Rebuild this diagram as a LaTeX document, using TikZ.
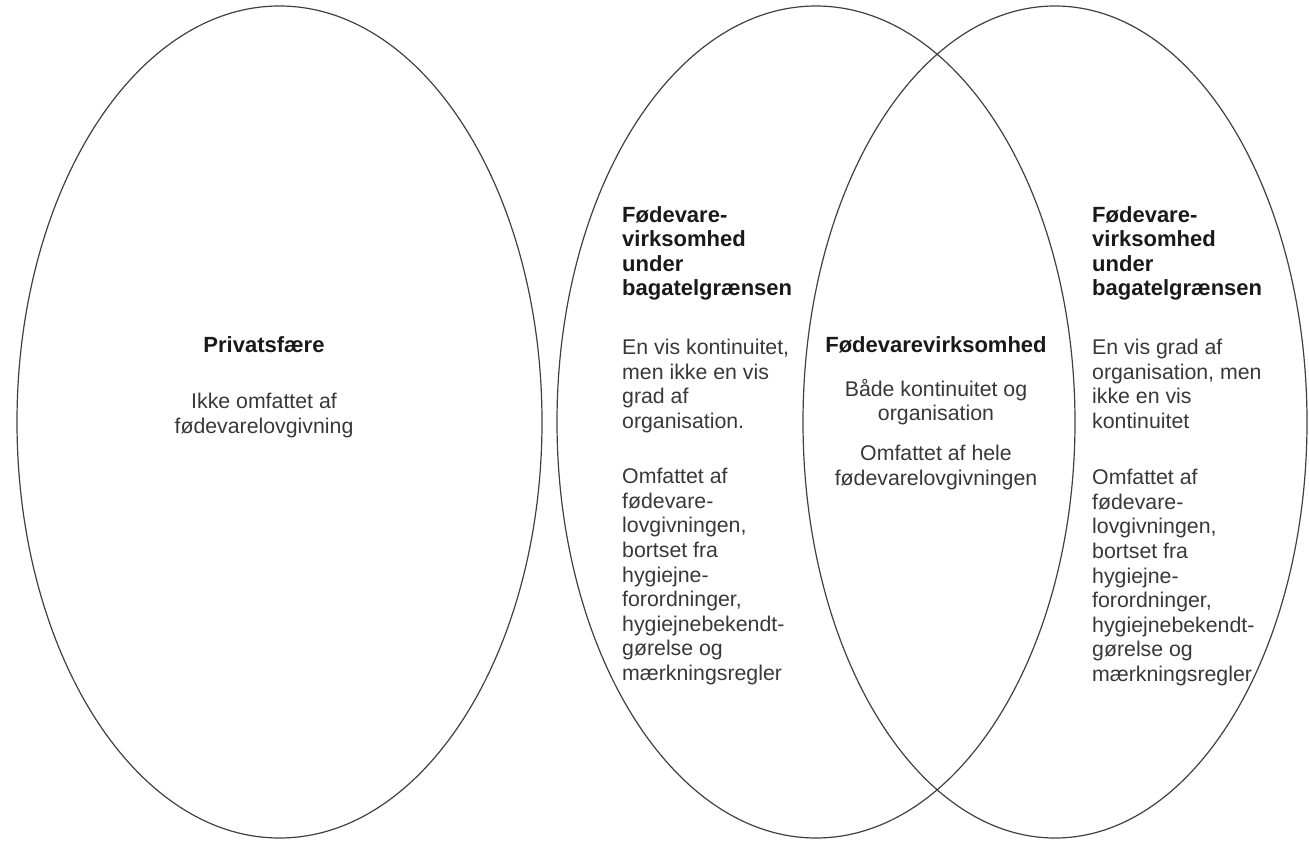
\documentclass[tikz,border=0pt]{standalone}
\usepackage{fontspec}
\setmainfont{Liberation Sans}
\begin{document}
\begin{tikzpicture}[x=1pt,y=-1pt,
        kreds/.style={draw=black!75,line width=1.2pt},
        overskrift/.style={inner sep=0pt,align=left,text=black!90,font=\fontsize{22}{24.6}\selectfont\bfseries},
        tekst/.style={inner sep=0pt,align=left,text=black!78,font=\fontsize{21.3}{24.6}\selectfont}]
        \useasboundingbox (0,0) rectangle (1309,843);

        \draw[kreds] (279.5,422) ellipse [x radius=262.5, y radius=416];
        \draw[kreds] (816,422) ellipse [x radius=259, y radius=416];
        \draw[kreds] (1055,422) ellipse [x radius=252, y radius=416];

        \node[overskrift,anchor=north,align=center] (privHead) at (264,336) {Privatsfære};
        \node[tekst,anchor=north,align=center] (privBody) at (264,393) {Ikke omfattet af\\fødevarelovgivning};

        \node[overskrift,anchor=north west] (leftHead) at (622,206) {Fødevare-\\virksomhed\\under\\bagatelgrænsen};
        \node[tekst,anchor=north west] (leftKrav) at (622,339) {En vis kontinuitet,\\men ikke en vis\\grad af\\organisation.};
        \node[tekst,anchor=north west] (leftRegler) at (622,468) {Omfattet af\\fødevare-\\lovgivningen,\\bortset fra\\hygiejne-\\forordninger,\\hygiejnebekendt-\\gørelse og\\mærkningsregler};

        \node[overskrift,anchor=north,align=center] (midHead) at (936,336) {Fødevarevirksomhed};
        \node[tekst,anchor=north,align=center] (midKrav) at (936,379) {Både kontinuitet og\\organisation};
        \node[tekst,anchor=north,align=center] (midRegler) at (936,445) {Omfattet af hele\\fødevarelovgivningen};

        \node[overskrift,anchor=north west] (rightHead) at (1092,206) {Fødevare-\\virksomhed\\under\\bagatelgrænsen};
        \node[tekst,anchor=north west] (rightKrav) at (1092,339) {En vis grad af\\organisation, men\\ikke en vis\\kontinuitet};
        \node[tekst,anchor=north west] (rightRegler) at (1092,469) {Omfattet af\\fødevare-\\lovgivningen,\\bortset fra\\hygiejne-\\forordninger,\\hygiejnebekendt-\\gørelse og\\mærkningsregler};
    \end{tikzpicture}
\end{document}
